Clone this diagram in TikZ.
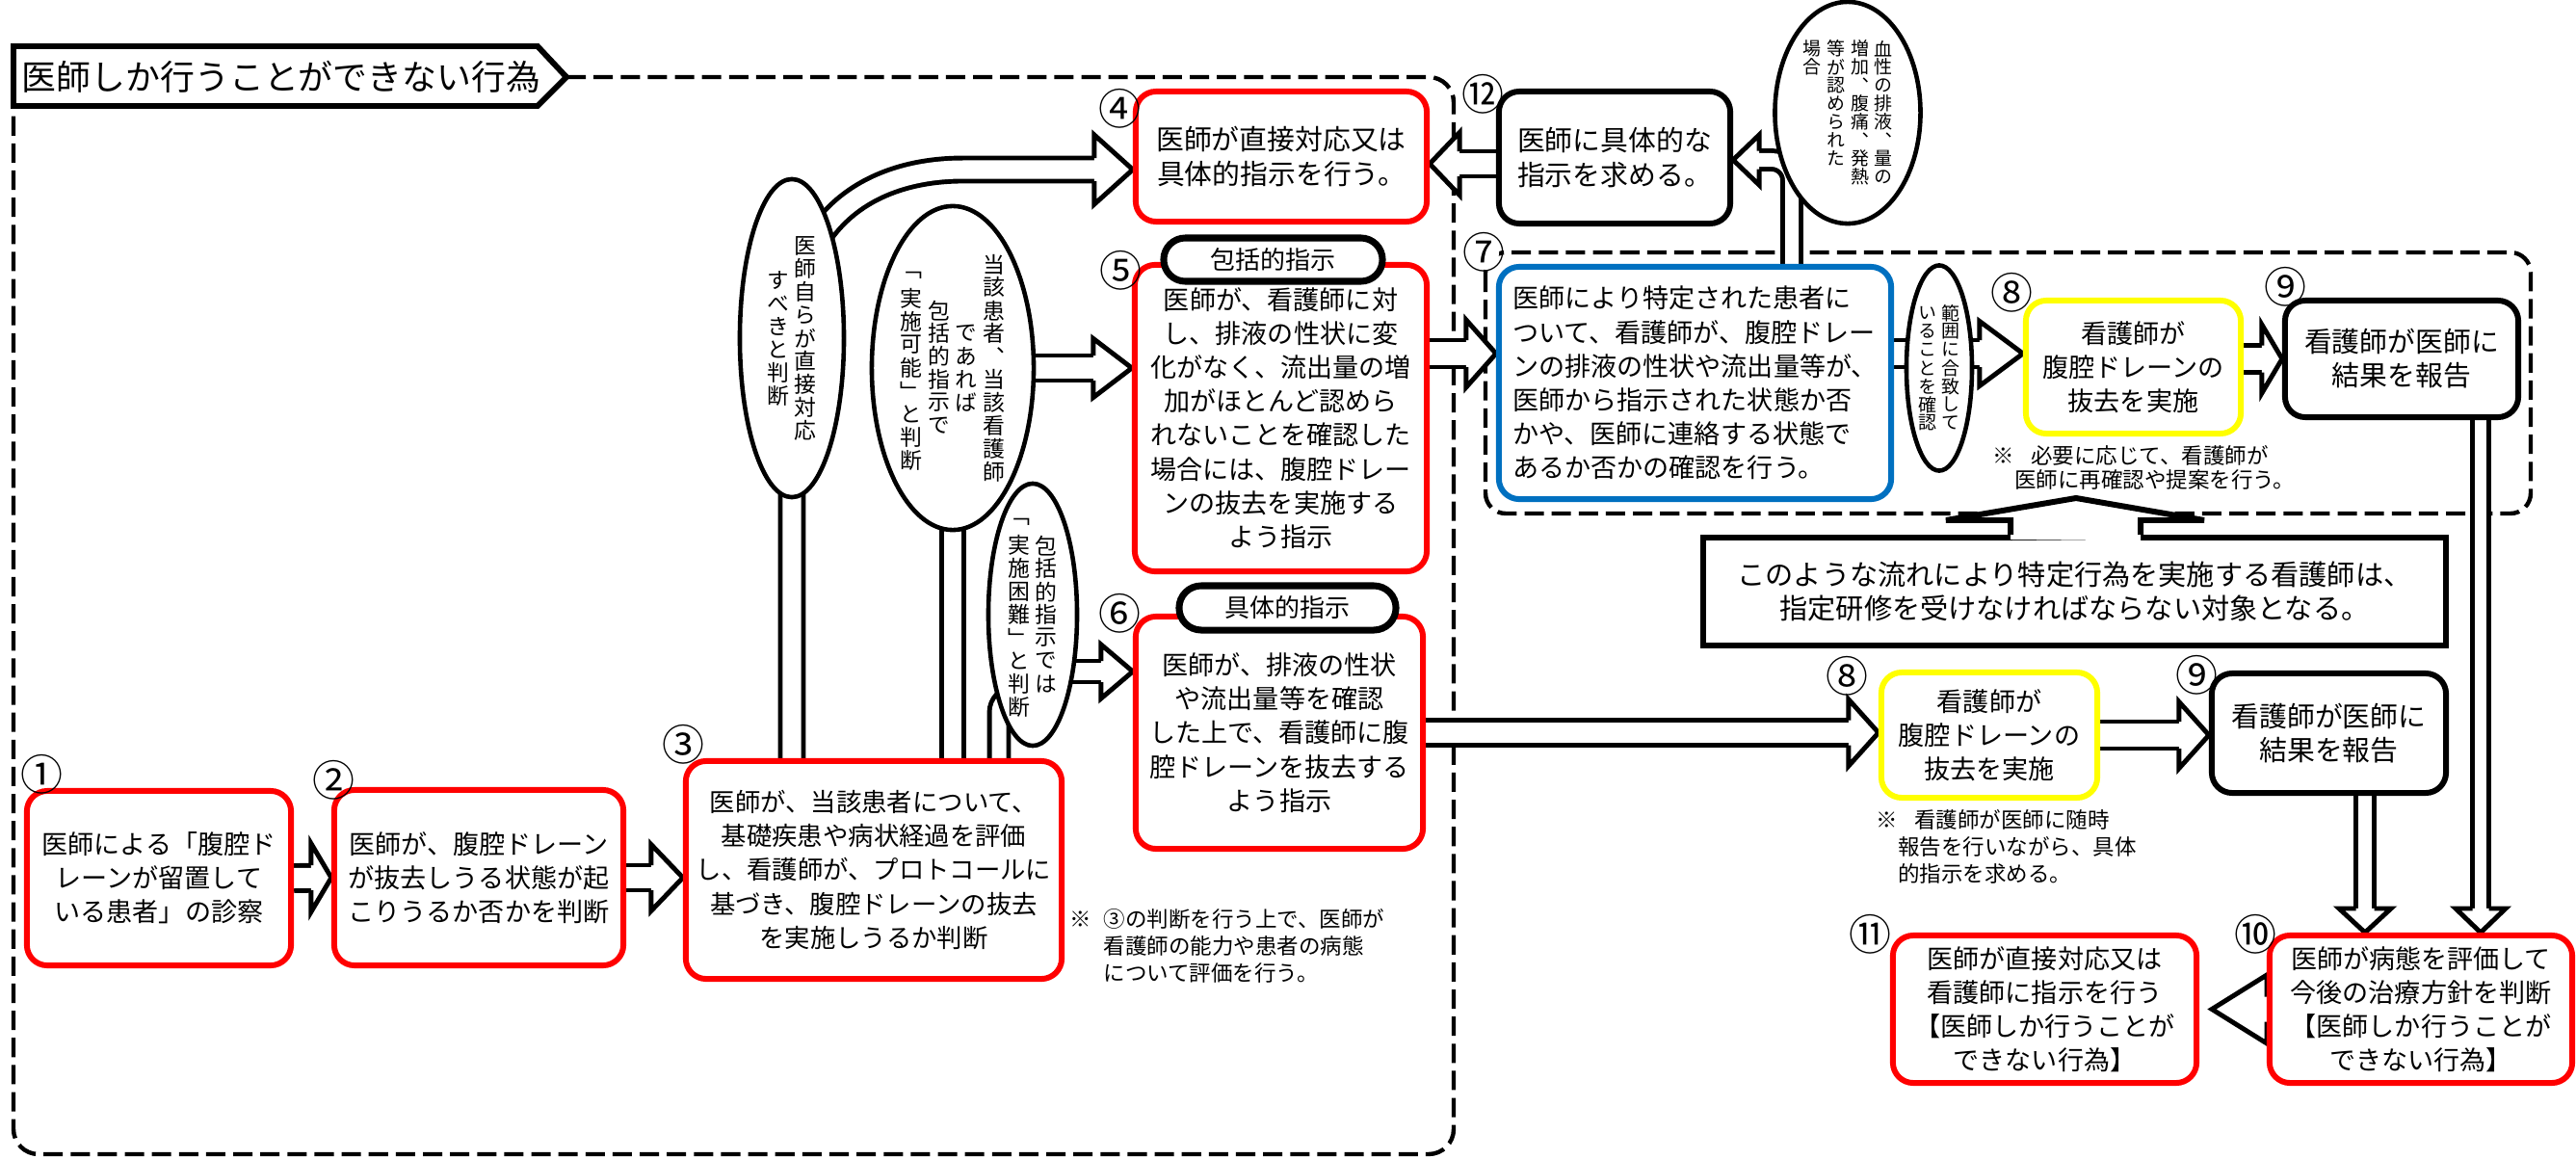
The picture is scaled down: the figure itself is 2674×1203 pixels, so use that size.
\documentclass[tikz,border=0pt]{standalone}
\usepackage{fontspec}
\setmainfont{Noto Sans CJK JP}
\newfontfamily\tatefont[RawFeature=+vert]{Noto Sans CJK JP}
\usetikzlibrary{shapes.geometric,shapes.misc}
\definecolor{drainblue}{HTML}{0070C0}
\definecolor{drainyellow}{HTML}{FFFF00}
\pgfdeclarelayer{frame}
\pgfdeclarelayer{arrows}
\pgfsetlayers{frame,arrows,main}
% vertical text: one column of stacked characters
\newlength\tpitch
\newcommand\tcolloop[1]{\ifx#1\relax\else\hbox to 1em{\hss\vbox to\tpitch{\vss\hbox{#1}\vss}\hss}\expandafter\tcolloop\fi}
\newcommand\tcol[1]{$\vcenter{\offinterlineskip\tcolloop#1\relax}$}
\newcommand\tcolt[1]{\vtop{\offinterlineskip\tcolloop#1\relax}}
\newcommand\tgap{\kern1.7pt}
\tikzset{
  headlen/.store in=\headlen, headwid/.store in=\headwid, shaftwid/.store in=\shaftwid,
  headlen=30, headwid=70, shaftwid=27,
  fathead/.pic={
    \fill[white] (-\headlen,-\shaftwid/2) -- (-\headlen,-\headwid/2) -- (0,0) -- (-\headlen,\headwid/2) -- (-\headlen,\shaftwid/2) -- cycle;
    \draw[line width=1.4pt, miter limit=10] (-\headlen,-\shaftwid/2) -- (-\headlen,-\headwid/2) -- (0,0) -- (-\headlen,\headwid/2) -- (-\headlen,\shaftwid/2);
  },
  fat/.style={double, double distance=#1, line width=1.4pt},
}

\begin{document}
\begin{tikzpicture}[x=0.01cm, y=-0.01cm,
  box/.style={draw, line width=1.7pt, rounded corners=6pt, fill=white, align=center, inner sep=0pt, font=\fontsize{7.7pt}{10pt}\selectfont},
  redbox/.style={box, draw=red},
  pill/.style={rounded rectangle, draw, line width=2pt, fill=white, inner sep=0pt, font=\fontsize{7.4pt}{8pt}\selectfont},
  bubble/.style={ellipse, draw, line width=1.3pt, fill=white, inner sep=0pt},
  tate/.style={inner sep=0pt, font={\tatefont\fontsize{6.5pt}{7pt}\selectfont\setlength\tpitch{6.8pt}}},
  tatesmall/.style={inner sep=0pt, font={\tatefont\fontsize{5.4pt}{6pt}\selectfont\setlength\tpitch{5.4pt}}},
  num/.style={inner sep=0pt, font=\fontsize{12.5pt}{12.5pt}\selectfont},
  note/.style={align=left, inner sep=0pt, font=\fontsize{6.4pt}{7.9pt}\selectfont},
  region/.style={line width=1.25pt, dash pattern=on 5.7pt off 2.3pt}]
\useasboundingbox (0,0) rectangle (2674,1203);

% title tag
\draw[line width=1.7pt, fill=white] (14,48) -- (558,48) -- (588,80) -- (558,110) -- (14,110) -- cycle;
\node[inner sep=0pt, font=\fontsize{10.2pt}{10pt}\selectfont] (title) at (292,80) {医師しか行うことができない行為};

% dashed frames
\begin{pgfonlayer}{frame}
\draw[region, rounded corners=7.4pt] (588,80) -- (1509,80) -- (1509,1198) -- (14,1198) -- (14,110);
\draw[region, rounded corners=6pt] (1542,262) rectangle (2627,533);
\end{pgfonlayer}

% boxes
\node[redbox, minimum width=2.74cm, minimum height=1.81cm] (b1) at (165,911.5) {医師による「腹腔ド\\レーンが留置して\\いる患者」の診察};
\node[redbox, minimum width=3.00cm, minimum height=1.82cm] (b2) at (497,911) {医師が、腹腔ドレーン\\が抜去しうる状態が起\\こりうるか否かを判断};
\node[redbox, minimum width=3.90cm, minimum height=2.26cm, font=\fontsize{7.5pt}{10pt}\selectfont] (b3) at (907,903) {医師が、当該患者について、\\基礎疾患や病状経過を評価\\し、看護師が、プロトコールに\\基づき、腹腔ドレーンの抜去\\を実施しうるか判断};
\node[redbox, minimum width=3.02cm, minimum height=1.35cm, font=\fontsize{8.2pt}{10pt}\selectfont] (b4) at (1330,162.5) {医師が直接対応又は\\具体的指示を行う。};
\node[redbox, minimum width=3.03cm, minimum height=3.18cm] (b5) at (1329.5,434) {医師が、看護師に対\\し、排液の性状に変\\化がなく、流出量の増\\加がほとんど認めら\\れないことを確認した\\場合には、腹腔ドレー\\ンの抜去を実施する\\よう指示};
\node[redbox, minimum width=2.98cm, minimum height=2.41cm] (b6) at (1328,760.5) {医師が、排液の性状\\や流出量等を確認\\した上で、看護師に腹\\腔ドレーンを抜去する\\よう指示};
\node[box, draw=drainblue, align=left, minimum width=4.07cm, minimum height=2.41cm] (b7) at (1759.5,397.5) {医師により特定された患者に\\ついて、看護師が、腹腔ドレー\\ンの排液の性状や流出量等が、\\医師から指示された状態か否\\かや、医師に連絡する状態で\\あるか否かの確認を行う。};
\node[box, draw=drainyellow, minimum width=2.23cm, minimum height=1.38cm] (b8u) at (2214.5,381) {看護師が\\腹腔ドレーンの\\抜去を実施};
\node[box, minimum width=2.42cm, minimum height=1.21cm, font=\fontsize{8.2pt}{10pt}\selectfont] (b9u) at (2493,372.5) {看護師が医師に\\結果を報告};
\node[box, draw=drainyellow, minimum width=2.24cm, minimum height=1.30cm] (b8l) at (2065,763) {看護師が\\腹腔ドレーンの\\抜去を実施};
\node[box, minimum width=2.43cm, minimum height=1.24cm, font=\fontsize{8.2pt}{10pt}\selectfont] (b9l) at (2417.5,761) {看護師が医師に\\結果を報告};
\node[redbox, minimum width=3.14cm, minimum height=1.53cm] (b10) at (2513,1047.5) {医師が病態を評価して\\今後の治療方針を判断\\【医師しか行うことが\\できない行為】};
\node[redbox, minimum width=3.15cm, minimum height=1.53cm] (b11) at (2122.5,1047.5) {医師が直接対応又は\\看護師に指示を行う\\【医師しか行うことが\\できない行為】};
\node[box, align=left, minimum width=2.40cm, minimum height=1.37cm, font=\fontsize{8.2pt}{10pt}\selectfont] (b12) at (1676,163.5) {医師に具体的な\\指示を求める。};

\node[pill, minimum width=2.27cm, minimum height=0.45cm] (p5) at (1321.5,269.5) {包括的指示};
\node[pill, minimum width=2.25cm, minimum height=0.46cm] (p6) at (1336.5,631) {具体的指示};

% decision bubbles
\node[bubble, minimum width=1.08cm, minimum height=3.30cm] (eA) at (822,351) {};
\node[tate] (tA) at (eA.center) {\tcol{すべきと判断}\tgap\tcol{医師自らが直接対応}};
\node[bubble, minimum width=1.68cm, minimum height=3.36cm] (eB) at (989,382) {};
\node[tate] (tB) at (eB.center) {\tcol{「実施可能」と判断}\tgap\tcol{包括的指示で}\tgap\tcol{であれば}\tgap\tcol{当該患者、当該看護師}};
\node[bubble, minimum width=0.92cm, minimum height=2.72cm] (eC) at (1072,638) {};
\node[tate] (tC) at (eC.center) {\tcol{「実施困難」と判断}\tgap\tcol{包括的指示では}};
\node[bubble, minimum width=1.51cm, minimum height=2.30cm] (eD) at (1918,117) {};
\node[tatesmall] (tD) at (eD.center) {\tcolt{場合}\tgap\tcolt{等が認められた}\tgap\tcolt{増加、腹痛、発熱}\tgap\tcolt{血性の排液、量の}};
\node[bubble, minimum width=0.68cm, minimum height=2.13cm] (eE) at (2013,382) {};
\node[tatesmall] (tE) at (eE.center) {\tcol{いることを確認}\tgap\tcol{範囲に合致して}};

% step numbers
\node[num] (n1) at (43,804) {①};
\node[num] (n2) at (346,810) {②};
\node[num] (n3) at (709,773) {③};
\node[num] (n4) at (1162,113) {④};
\node[num] (n5) at (1163,281) {⑤};
\node[num] (n6) at (1162,637) {⑥};
\node[num, circle, fill=white, inner sep=-2.8pt] (n7) at (1540,262) {⑦};
\node[num] (n8u) at (2088,304) {⑧};
\node[num, circle, fill=white, inner sep=-2.8pt] (n9u) at (2372,298) {⑨};
\node[num] (n8l) at (1917,702) {⑧};
\node[num] (n9l) at (2280,701) {⑨};
\node[num] (n10) at (2341,970) {⑩};
\node[num] (n11) at (1941,970) {⑪};
\node[num] (n12) at (1539,98) {⑫};

% remarks
\node[note, anchor=north west] (c3) at (1110,943) {※\hspace{0.55em}③の判断を行う上で、医師が\\\hspace*{1.55em}看護師の能力や患者の病態\\\hspace*{1.55em}について評価を行う。};
\node[note, anchor=north west, font=\fontsize{6.4pt}{7.1pt}\selectfont] (c8u) at (2068,462) {※\hspace{0.75em}必要に応じて、看護師が\\\hspace*{1em}医師に再確認や提案を行う。};
\node[note, anchor=north west] (c8l) at (1947,840) {※\hspace{0.75em}看護師が医師に随時\\\hspace*{1em}報告を行いながら、具体\\\hspace*{1em}的指示を求める。};

\node[draw, line width=1.7pt, fill=white, minimum width=7.71cm, minimum height=1.12cm, align=center, inner sep=0pt, font=\fontsize{8.3pt}{10pt}\selectfont] (nb) at (2153.5,614) {このような流れにより特定行為を実施する看護師は、\\指定研修を受けなければならない対象となる。};
\fill[white] (nb.north -| 2087,0) ++(0,5) -- (2087,540) -- (2020,540) -- (2155,517) -- (2288,540) -- (2222,540) -- ([yshift=-1.8pt]nb.north -| 2222,0) -- cycle;
\draw[line width=1.7pt] (nb.north -| 2087,0) -- (2087,540) -- (2020,540) -- (2155,517) -- (2288,540) -- (2222,540) -- (nb.north -| 2222,0);

% block arrows
\begin{pgfonlayer}{arrows}
\draw[fat=0.21cm, shorten >=0.21cm] (b1.east) -- (b2.west);
\pic[headlen=21, headwid=71, shaftwid=26] at (b2.west) {fathead};
\draw[fat=0.21cm, shorten >=0.33cm] (b2.east) -- (b2.east -| b3.west);
\pic[headlen=33, headwid=69, shaftwid=26] at (b2.east -| b3.west) {fathead};

\draw[fat=0.19cm, shorten >=0.40cm] (b3.north -| eA.center) -- (eA.center) .. controls +(0,-120) and (900,176) .. (1000,176) -- (b4.west |- 0,176);
\pic[headlen=40, headwid=72, shaftwid=24] at (b4.west |- 0,176) {fathead};
\draw[fat=0.18cm] (b3.north -| eB.center) -- (eB.center);
\draw[fat=0.15cm, rounded corners=5pt] (b3.north -| 1037,0) -- (1037,722) -- (1075,722);

\draw[fat=0.21cm, shorten >=0.40cm] (eB.east) -- (eB.east -| b5.west);
\pic[headlen=40, headwid=61, shaftwid=26] at (eB.east -| b5.west) {fathead};
\draw[fat=0.17cm, shorten >=0.33cm] (eC.center |- 0,697) -- (b6.west |- 0,697);
\pic[headlen=33, headwid=56, shaftwid=22] at (b6.west |- 0,697) {fathead};

\draw[fat=0.21cm, shorten >=0.31cm] (b12.west |- 0,170) -- (b4.east |- 0,170);
\pic[rotate=180, headlen=31, headwid=65, shaftwid=26] at (b4.east |- 0,170) {fathead};
\draw[fat=0.14cm, rounded corners=6pt, shorten >=0.27cm] (b7.north -| 1860,0) -- (1860,166) -- (b12.east |- 0,166);
\pic[rotate=180, headlen=27, headwid=52, shaftwid=19] at (b12.east |- 0,166) {fathead};

\draw[fat=0.23cm, shorten >=0.31cm] (b5.east |- 0,367) -- (b7.west |- 0,367);
\pic[headlen=31, headwid=70, shaftwid=28] at (b7.west |- 0,367) {fathead};
\draw[fat=0.23cm, shorten >=0.45cm] (b7.east |- 0,367) -- (b8u.west |- 0,367);
\pic[headlen=45, headwid=67, shaftwid=28] at (b8u.west |- 0,367) {fathead};
\draw[fat=0.23cm, shorten >=0.21cm] (b9u.west -| b8u.east) -- (b9u.west);
\pic[headlen=21, headwid=71, shaftwid=28] at (b9u.west) {fathead};

\draw[fat=0.21cm, shorten >=0.31cm] (b6.east) -- (b6.east -| b8l.west);
\pic[headlen=31, headwid=69, shaftwid=26] at (b6.east -| b8l.west) {fathead};
\draw[fat=0.23cm, shorten >=0.31cm] (b8l.east) -- (b8l.east -| b9l.west);
\pic[headlen=31, headwid=69, shaftwid=28] at (b8l.east -| b9l.west) {fathead};

\draw[fat=0.14cm, shorten >=0.25cm] (b9l.south -| 2455,0) -- (b10.north -| 2455,0);
\pic[rotate=-90, headlen=25, headwid=54, shaftwid=19] at (b10.north -| 2455,0) {fathead};
\draw[fat=0.12cm, shorten >=0.25cm] (b9u.south -| 2575,0) -- (b10.north -| 2575,0);
\pic[rotate=-90, headlen=25, headwid=52, shaftwid=17] at (b10.north -| 2575,0) {fathead};
\draw[fat=0.21cm, shorten >=0.57cm] (b10.west) -- (b10.west -| 2296,0);
\pic[rotate=180, headlen=57, headwid=71, shaftwid=26] at (b10.west -| 2296,0) {fathead};
\end{pgfonlayer}
\end{tikzpicture}
\end{document}
